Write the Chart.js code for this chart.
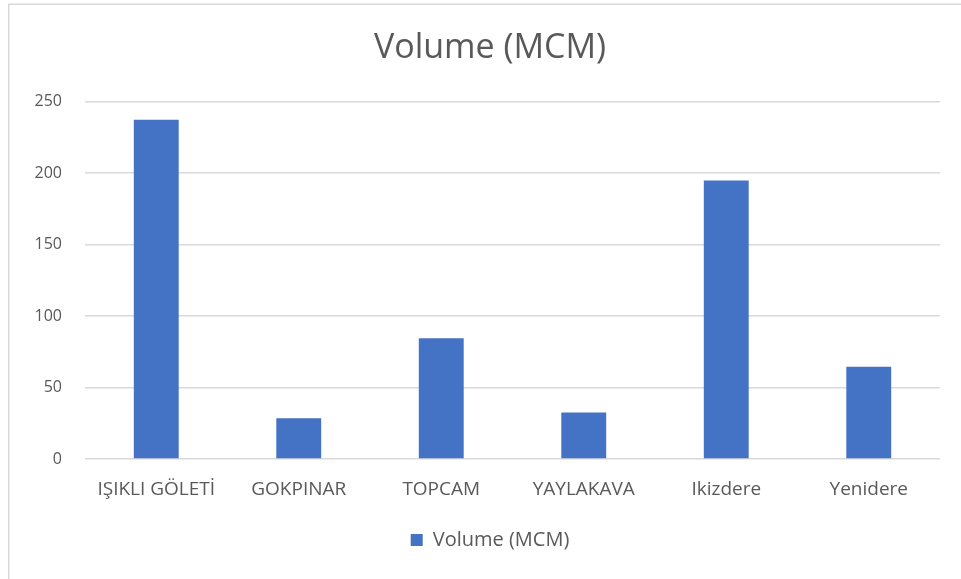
<!DOCTYPE html>
<html>
<head>
<meta charset="utf-8">
<script src="https://cdn.jsdelivr.net/npm/chart.js@4/dist/chart.umd.min.js"></script>
<style>
  html, body { margin: 0; padding: 0; background: #ffffff; }
  #wrap { position: relative; width: 961px; height: 579px; }
</style>
</head>
<body>
<div id="wrap"><canvas id="c" width="961" height="579"></canvas></div>
<script>
const categories = ['IŞIKLI GÖLETİ', 'GOKPINAR', 'TOPCAM', 'YAYLAKAVA', 'Ikizdere', 'Yenidere'];
const volumeMCM = [237.5, 28.5, 84.5, 32.5, 195, 64.5];
const seriesName = 'Volume (MCM)';
const chartTitle = 'Volume (MCM)';

const FONT = "'Open Sans', 'Liberation Sans', sans-serif";
const TEXT = '#595959';

const frame = {
  id: 'frame',
  beforeDraw(chart) {
    const ctx = chart.ctx;
    ctx.save();
    ctx.fillStyle = '#ffffff';
    ctx.fillRect(0, 0, chart.width, chart.height);
    ctx.strokeStyle = '#d9d9d9';
    ctx.lineWidth = 1.5;
    ctx.beginPath();
    ctx.moveTo(8.75, chart.height);
    ctx.lineTo(8.75, 4.25);
    ctx.lineTo(chart.width, 4.25);
    ctx.stroke();
    ctx.restore();
  }
};

// shift title and legend horizontally so they are centred like the original
const centreShift = {
  id: 'centreShift',
  afterLayout(chart) {
    const dx = 16;
    [chart.titleBlock, chart.legend].forEach(b => {
      if (b) { b.left += dx; b.right += dx; }
    });
  }
};

new Chart(document.getElementById('c'), {
  type: 'bar',
  data: {
    labels: categories,
    datasets: [{
      label: seriesName,
      data: volumeMCM,
      backgroundColor: '#4472C4',
      borderWidth: 0,
      categoryPercentage: 1.0,
      barPercentage: 0.315
    }]
  },
  options: {
    responsive: false,
    animation: false,
    devicePixelRatio: 1,
    layout: { padding: { left: 8, right: 21, top: 0, bottom: 19 } },
    plugins: {
      title: {
        display: true,
        text: chartTitle,
        color: TEXT,
        font: { family: FONT, size: 34, weight: 'normal' },
        padding: { top: 28, bottom: 33 }
      },
      legend: {
        display: true,
        position: 'bottom',
        labels: {
          color: TEXT,
          font: { family: FONT, size: 20 },
          boxWidth: 12,
          boxHeight: 12,
          padding: 10
        }
      },
      tooltip: { enabled: false }
    },
    scales: {
      x: {
        grid: { display: false },
        border: { display: false },
        ticks: {
          color: TEXT,
          font: { family: FONT, size: 19 },
          padding: 11,
          maxRotation: 0,
          autoSkip: false
        },
        afterFit(s) { s.height = 61; }
      },
      y: {
        min: 0,
        max: 250,
        ticks: {
          stepSize: 50,
          color: TEXT,
          font: { family: FONT, size: 16 },
          padding: 23
        },
        grid: { color: '#d9d9d9', lineWidth: 1.5, drawTicks: false },
        border: { display: false },
        afterFit(s) { s.width = 77; }
      }
    }
  },
  plugins: [frame, centreShift]
});
</script>
</body>
</html>
